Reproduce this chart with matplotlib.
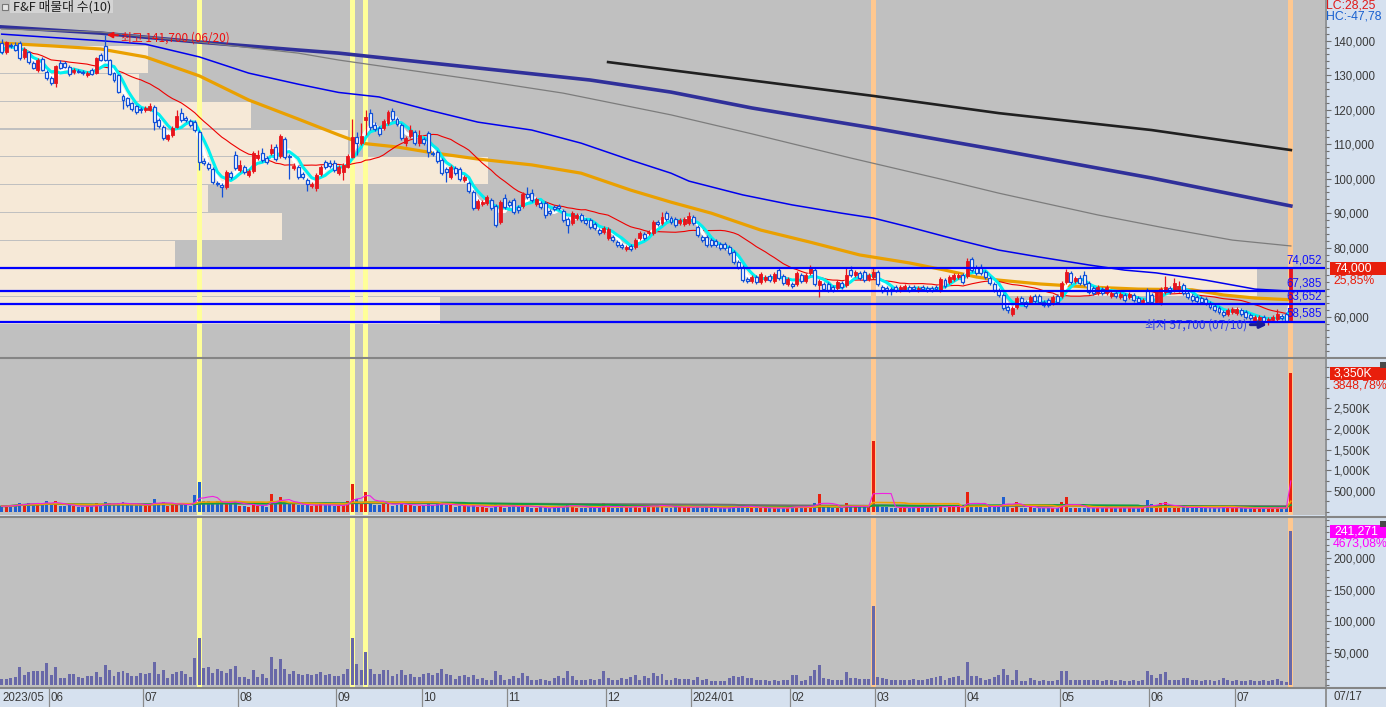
import numpy as np
import pandas as pd
import matplotlib
matplotlib.use("Agg")
import matplotlib.pyplot as plt
from matplotlib import font_manager
from matplotlib.patches import Rectangle
from matplotlib.lines import Line2D
from matplotlib.ticker import FixedLocator, FuncFormatter
from matplotlib.transforms import blended_transform_factory

# ---------------- data ----------------
# KRX trading calendar, 2023-05-16 .. 2024-07-17
HOLIDAYS = ["2023-05-29", "2023-06-06", "2023-08-15", "2023-09-28", "2023-09-29",
            "2023-10-02", "2023-10-03", "2023-10-09", "2023-12-25", "2023-12-29",
            "2024-01-01", "2024-02-09", "2024-02-12", "2024-03-01", "2024-04-10",
            "2024-05-01", "2024-05-06", "2024-05-15", "2024-06-06"]
START, END = "2023-05-16", "2024-07-17"

# daily candles, thousand won
opens = [
    139.3, 136.7, 138.8, 138.8, 139.2, 135.3, 136.7, 133.5, 131.5, 134.7,
    130.9, 129.2, 127.7, 133.5, 133.5, 132.4, 130.9, 131.2, 130.9, 130.1,
    131.5, 130.6, 135.8, 138.5, 134.4, 130.6, 130.1, 124.0, 123.4, 121.9,
    121.1, 120.2, 119.9, 119.9, 120.8, 117.0, 115.0, 111.5, 112.6, 115.0,
    119.0, 117.6, 116.7, 116.4, 113.5, 105.1, 104.2, 102.8, 98.7, 98.1,
    97.6, 101.6, 106.9, 102.5, 103.4, 101.1, 102.2, 106.0, 107.4, 106.0,
    107.4, 109.2, 106.6, 111.5, 106.6, 103.1, 103.4, 101.3, 99.6, 97.8,
    97.3, 101.3, 104.8, 104.6, 104.6, 101.6, 101.9, 103.4, 106.3, 112.1,
    110.3, 117.0, 119.0, 115.6, 114.7, 114.7, 116.1, 119.6, 117.3, 115.6,
    110.3, 112.4, 113.5, 110.3, 111.5, 113.2, 107.4, 107.7, 105.4, 102.8,
    100.5, 103.1, 102.8, 99.6, 98.7, 96.1, 91.5, 92.7, 93.0, 93.8,
    92.1, 87.4, 94.4, 93.2, 93.8, 91.8, 92.1, 95.6, 95.9, 92.7,
    92.9, 92.9, 90.6, 91.8, 92.1, 90.6, 88.3, 87.2, 88.6, 89.5,
    88.0, 88.0, 86.9, 85.1, 84.6, 82.8, 83.1, 81.6, 80.8, 79.6,
    80.5, 80.2, 82.8, 84.0, 84.3, 84.3, 87.4, 87.2, 90.0, 88.6,
    88.3, 87.2, 86.9, 87.2, 88.9, 86.0, 83.1, 83.1, 82.2, 81.9,
    81.0, 81.0, 80.2, 78.7, 75.9, 74.4, 70.9, 70.4, 71.5, 70.0,
    70.6, 71.8, 70.4, 73.5, 71.8, 69.5, 69.5, 69.5, 72.1, 70.4,
    72.7, 73.5, 69.2, 69.5, 69.5, 68.6, 68.3, 69.8, 69.2, 73.5,
    72.1, 72.7, 73.0, 70.9, 71.5, 73.0, 68.6, 68.3, 68.0, 68.6,
    67.7, 68.0, 68.6, 68.6, 67.7, 68.6, 68.3, 68.3, 68.6, 67.7,
    70.6, 70.0, 70.9, 71.5, 72.1, 71.8, 76.8, 74.4, 74.4, 73.0,
    71.2, 69.5, 67.8, 66.3, 62.8, 60.8, 62.8, 65.4, 64.3, 64.3,
    66.0, 66.0, 64.3, 64.9, 64.0, 66.0, 66.0, 70.0, 72.7, 70.4,
    71.2, 72.1, 69.8, 68.3, 66.9, 68.0, 66.9, 66.0, 66.9, 65.7,
    66.3, 65.7, 66.3, 65.4, 64.3, 67.8, 66.3, 64.3, 64.0, 67.2,
    68.3, 67.8, 67.8, 69.2, 66.9, 66.0, 65.7, 65.4, 65.1, 64.0,
    63.1, 62.5, 61.3, 60.8, 61.3, 61.0, 61.9, 61.3, 60.5, 58.7,
    59.0, 59.9, 58.4, 59.0, 59.3, 60.2, 60.8, 59.0]
highs = [
    140.5, 140.0, 139.3, 139.6, 140.0, 138.2, 137.0, 134.0, 135.0, 135.3,
    131.5, 129.8, 133.0, 134.5, 134.0, 133.0, 132.0, 131.8, 131.5, 131.2,
    132.0, 135.3, 136.5, 141.7, 134.7, 131.0, 130.4, 124.5, 123.8, 122.3,
    121.5, 120.8, 121.1, 122.0, 121.4, 117.6, 115.6, 113.0, 115.2, 120.0,
    120.5, 118.2, 117.3, 117.0, 114.0, 106.0, 104.8, 103.4, 99.2, 98.7,
    102.5, 102.2, 108.0, 105.4, 104.0, 102.8, 108.0, 108.3, 109.0, 106.6,
    110.0, 110.0, 113.0, 112.0, 107.2, 104.5, 104.0, 101.9, 100.2, 99.0,
    101.6, 104.0, 105.4, 105.4, 105.4, 104.0, 104.6, 107.2, 117.3, 113.5,
    116.0, 120.0, 120.2, 116.4, 115.3, 117.3, 120.0, 120.5, 117.9, 116.1,
    112.4, 115.6, 114.1, 114.1, 112.1, 113.8, 108.0, 108.3, 106.0, 103.4,
    104.0, 103.7, 103.4, 101.0, 99.3, 96.7, 94.1, 93.8, 95.3, 94.4,
    92.7, 93.8, 95.6, 93.8, 94.4, 92.4, 96.1, 97.6, 97.0, 94.7,
    93.5, 93.5, 91.2, 92.4, 92.7, 91.2, 88.9, 90.6, 90.0, 90.0,
    88.6, 88.6, 87.5, 85.7, 86.3, 86.0, 83.7, 82.2, 81.4, 80.8,
    81.0, 82.8, 84.9, 84.6, 85.1, 88.0, 88.0, 90.4, 90.6, 89.2,
    88.9, 88.6, 88.9, 90.4, 89.5, 86.6, 83.7, 83.7, 82.8, 82.5,
    81.6, 81.6, 80.8, 79.3, 76.5, 75.0, 71.5, 72.1, 72.1, 73.0,
    72.1, 72.4, 73.0, 74.4, 72.4, 71.5, 70.1, 73.3, 72.7, 72.7,
    75.0, 74.1, 71.0, 70.1, 70.1, 69.2, 70.6, 70.4, 74.1, 74.7,
    73.6, 73.3, 73.6, 72.7, 74.4, 73.6, 69.2, 68.9, 68.6, 69.2,
    69.2, 69.5, 69.2, 69.2, 68.9, 69.2, 68.9, 68.9, 69.2, 71.5,
    71.2, 72.1, 72.7, 72.7, 72.7, 77.0, 77.4, 75.0, 75.3, 73.6,
    71.8, 70.1, 68.3, 66.9, 63.4, 63.1, 66.0, 66.0, 64.9, 66.3,
    66.6, 66.6, 64.9, 65.4, 66.3, 66.6, 70.4, 73.8, 73.3, 71.8,
    72.1, 73.3, 70.4, 68.9, 69.2, 68.6, 69.2, 67.5, 67.5, 67.2,
    66.9, 67.2, 66.9, 66.0, 65.4, 68.3, 66.9, 67.8, 68.6, 71.8,
    68.9, 71.2, 70.4, 69.8, 67.5, 66.6, 66.3, 66.0, 65.7, 64.6,
    63.7, 63.1, 61.9, 62.5, 62.8, 62.8, 62.5, 61.9, 61.0, 60.5,
    60.5, 60.5, 59.9, 60.5, 62.2, 60.8, 61.3, 74.0]
lows = [
    136.0, 136.2, 137.8, 137.0, 134.5, 134.7, 133.2, 131.8, 131.0, 131.2,
    128.6, 127.2, 126.7, 131.8, 132.0, 129.8, 130.4, 130.6, 130.2, 129.5,
    130.0, 130.3, 134.0, 134.0, 130.0, 128.0, 124.8, 120.2, 120.8, 119.6,
    118.8, 119.0, 119.3, 119.6, 114.1, 114.7, 111.2, 111.0, 112.2, 114.7,
    116.4, 116.4, 115.0, 113.5, 102.5, 104.0, 102.5, 98.4, 97.8, 94.7,
    97.0, 100.0, 102.5, 102.0, 101.3, 100.5, 101.6, 105.4, 104.8, 104.2,
    107.0, 105.0, 106.0, 105.7, 99.9, 102.5, 100.0, 99.9, 96.5, 97.2,
    96.5, 100.8, 102.8, 103.0, 101.9, 101.0, 99.6, 103.0, 106.0, 107.0,
    109.8, 112.7, 114.0, 113.8, 112.4, 114.0, 115.6, 116.7, 115.3, 111.2,
    109.5, 111.8, 109.8, 109.5, 109.8, 106.4, 106.6, 104.6, 101.0, 99.0,
    100.0, 101.0, 99.3, 99.0, 95.8, 91.0, 90.9, 92.0, 92.4, 91.0,
    86.0, 86.9, 91.2, 91.8, 89.8, 90.0, 91.5, 94.1, 93.2, 92.1,
    91.2, 88.5, 89.4, 90.6, 90.9, 87.4, 84.3, 86.6, 88.0, 87.4,
    86.6, 85.4, 85.1, 83.7, 84.0, 82.2, 81.6, 80.2, 79.6, 79.0,
    79.0, 79.6, 82.2, 82.2, 83.7, 83.7, 86.3, 86.6, 87.7, 86.9,
    86.0, 86.6, 86.3, 86.6, 86.6, 83.1, 81.6, 80.2, 80.2, 80.2,
    79.3, 79.3, 77.9, 75.3, 73.8, 70.0, 69.8, 69.8, 69.5, 69.5,
    70.0, 70.0, 69.8, 70.6, 69.2, 68.9, 68.3, 68.9, 69.8, 69.8,
    72.1, 68.9, 65.8, 67.4, 67.1, 67.1, 67.7, 68.0, 68.6, 71.5,
    71.5, 70.6, 70.0, 70.3, 70.9, 68.9, 66.8, 66.3, 66.3, 67.1,
    67.1, 67.4, 67.1, 67.4, 67.1, 67.4, 67.1, 67.1, 67.4, 67.1,
    68.3, 69.4, 70.3, 70.9, 69.4, 71.2, 72.9, 72.1, 72.1, 70.9,
    69.2, 67.1, 65.7, 61.9, 61.0, 60.2, 62.2, 63.7, 62.5, 63.7,
    64.0, 63.7, 62.8, 62.8, 63.4, 63.7, 65.4, 69.4, 69.4, 69.8,
    69.2, 68.9, 66.6, 66.3, 66.3, 66.3, 66.3, 65.4, 65.4, 65.1,
    64.3, 65.1, 64.3, 63.7, 63.7, 63.7, 63.7, 63.7, 63.4, 66.6,
    66.6, 67.2, 67.2, 66.3, 65.1, 64.3, 64.0, 63.7, 63.4, 62.2,
    61.3, 60.8, 59.9, 60.2, 60.8, 60.5, 60.2, 59.3, 59.0, 58.1,
    58.0, 58.1, 57.7, 58.4, 58.7, 59.0, 58.4, 58.6]
closes = [
    136.7, 139.6, 138.4, 137.3, 134.9, 137.6, 133.8, 132.1, 134.4, 131.5,
    129.2, 127.7, 132.7, 132.1, 132.4, 130.3, 131.5, 130.9, 130.6, 130.6,
    130.3, 134.9, 134.4, 134.4, 130.3, 128.6, 125.1, 122.8, 121.4, 120.2,
    119.3, 119.9, 120.5, 121.1, 116.4, 115.3, 111.8, 112.6, 114.7, 118.2,
    117.0, 117.0, 115.6, 114.1, 104.8, 104.6, 103.1, 99.0, 98.4, 97.6,
    101.9, 100.5, 103.1, 104.0, 101.9, 102.2, 107.4, 106.9, 105.4, 104.8,
    108.6, 105.7, 112.4, 106.3, 106.3, 103.7, 100.5, 100.5, 98.4, 98.4,
    101.1, 103.4, 103.4, 103.7, 102.5, 103.4, 104.0, 106.6, 112.1, 110.3,
    112.4, 117.9, 115.0, 114.4, 113.0, 116.7, 119.3, 117.3, 115.9, 111.8,
    111.8, 114.1, 110.3, 112.7, 110.3, 107.7, 107.2, 105.1, 101.6, 101.9,
    103.4, 101.6, 99.9, 100.5, 96.4, 91.5, 93.5, 93.2, 94.7, 91.5,
    86.6, 93.2, 91.8, 92.4, 90.4, 90.9, 95.6, 94.7, 93.8, 94.1,
    91.8, 89.5, 90.0, 91.2, 91.5, 88.0, 86.6, 90.0, 89.5, 88.0,
    87.2, 86.0, 85.7, 84.3, 85.7, 85.4, 82.2, 80.8, 80.2, 80.2,
    79.6, 82.2, 84.3, 82.8, 84.6, 87.4, 86.9, 88.9, 88.3, 87.4,
    86.6, 88.0, 88.3, 89.2, 87.2, 83.7, 82.2, 80.8, 80.8, 80.8,
    79.9, 79.9, 78.5, 75.9, 74.4, 70.6, 70.4, 71.5, 70.0, 72.4,
    71.5, 70.6, 72.4, 71.2, 69.8, 70.9, 68.9, 72.7, 70.4, 72.1,
    74.1, 69.5, 70.4, 68.0, 67.7, 67.7, 70.0, 68.6, 72.1, 72.1,
    73.0, 71.2, 70.6, 72.1, 73.0, 69.5, 67.4, 67.7, 67.4, 67.7,
    68.6, 68.9, 67.7, 68.0, 68.3, 68.0, 67.7, 67.7, 68.0, 70.9,
    68.9, 71.5, 72.1, 72.1, 70.0, 76.2, 73.5, 72.7, 72.7, 71.5,
    69.8, 67.7, 66.3, 62.5, 61.9, 62.5, 65.4, 64.3, 63.1, 65.7,
    64.6, 64.3, 63.4, 63.4, 65.7, 64.3, 69.8, 73.0, 70.0, 71.2,
    69.8, 69.5, 67.1, 66.9, 68.6, 66.9, 68.6, 66.9, 66.0, 66.6,
    64.9, 66.6, 64.9, 64.3, 64.9, 64.3, 64.3, 67.2, 68.0, 68.6,
    67.2, 69.8, 68.9, 66.9, 65.7, 64.9, 64.6, 64.3, 64.0, 62.8,
    61.9, 61.3, 60.5, 61.9, 62.2, 62.2, 60.8, 59.9, 59.6, 59.9,
    59.9, 58.7, 59.3, 59.9, 60.8, 59.6, 58.8, 74.0]

# volume, thousand shares
volume = [
    135, 130, 155, 170, 218, 180, 200, 190, 210, 200,
    270, 170, 260, 140, 130, 150, 145, 120, 115, 130,
    135, 200, 140, 240, 210, 150, 220, 230, 190, 160,
    165, 180, 170, 185, 315, 190, 230, 140, 170, 200,
    210, 160, 130, 395, 725, 260, 270, 200, 250, 230,
    200, 240, 270, 140, 130, 110, 230, 130, 170, 120,
    435, 250, 363, 240, 180, 200, 160, 150, 170, 140,
    170, 190, 150, 160, 130, 135, 170, 250, 677, 300,
    230, 484, 240, 170, 165, 220, 230, 140, 160, 230,
    150, 170, 130, 135, 170, 180, 150, 180, 240, 170,
    150, 110, 140, 150, 130, 160, 110, 120, 95, 100,
    210, 150, 100, 110, 140, 120, 180, 140, 85, 90,
    110, 90, 80, 120, 135, 120, 210, 140, 100, 95,
    100, 110, 90, 110, 200, 125, 100, 95, 120, 110,
    130, 150, 100, 135, 125, 185, 140, 170, 100, 95,
    120, 110, 110, 115, 100, 130, 100, 110, 80, 80,
    85, 80, 120, 140, 130, 140, 120, 120, 90, 90,
    90, 80, 90, 80, 100, 90, 160, 155, 80, 100,
    140, 220, 430, 120, 110, 100, 100, 100, 200, 120,
    120, 110, 110, 110, 1720, 140, 125, 110, 100, 95,
    90, 100, 95, 110, 100, 95, 110, 120, 130, 140,
    100, 120, 130, 140, 90, 480, 150, 145, 125, 100,
    115, 135, 160, 350, 165, 100, 230, 80, 80, 125,
    100, 80, 90, 80, 80, 100, 230, 350, 90, 90,
    90, 90, 100, 90, 90, 80, 90, 100, 80, 100,
    80, 80, 90, 80, 90, 280, 180, 140, 200, 230,
    100, 90, 90, 125, 120, 90, 100, 80, 90, 100,
    80, 100, 120, 90, 80, 90, 80, 80, 90, 80,
    80, 90, 80, 100, 115, 80, 84.836, 3350]

# lower pane series, thousands
lower = [
    10.4, 10.4, 12, 13, 28.6, 15.6, 20.8, 22.4, 22.4, 22.4,
    35, 15.6, 28.6, 12, 12, 17.2, 17.2, 13, 12, 14.6,
    14.6, 20.8, 13, 31, 23.4, 14, 20.8, 22.4, 19.3, 15.1,
    15.1, 19.3, 18.2, 19.3, 36.5, 18.2, 23.4, 12, 17.2, 20.8,
    22.4, 17.2, 13, 42.7, 74, 27.6, 28.6, 19.3, 26, 22.4,
    19.3, 26, 29.7, 13, 13, 10.4, 24.5, 13, 17.2, 12,
    44, 26, 41.7, 26, 18.2, 22.4, 17.2, 15.6, 18.2, 15.6,
    18.2, 20.8, 15.6, 18.2, 14, 14, 18.2, 26, 74, 32.8,
    24.5, 52, 26, 18.2, 18.2, 24.5, 24.5, 14, 17.2, 24.5,
    15.6, 18.2, 13, 13, 18.2, 19.3, 15.6, 19.3, 26, 18.2,
    15.6, 10.4, 14, 15.6, 13, 15.6, 10.4, 12, 8.9, 8.9,
    22.4, 15.6, 8.9, 10.4, 14, 12, 19.3, 14, 7.8, 7.8,
    10.4, 7.8, 6.8, 12, 14, 12, 22.4, 14, 8.9, 8.9,
    8.9, 10.4, 7.8, 10.4, 22.4, 12, 8.9, 8.9, 12, 10.4,
    13, 15.6, 8.9, 14, 12, 19.3, 14, 18.2, 8.9, 8.9,
    12, 10.4, 10.4, 10.4, 8.9, 13, 8.9, 10.4, 6.8, 6.8,
    6.8, 6.8, 12, 14, 13, 14, 12, 12, 7.8, 7.8,
    7.8, 6.8, 7.8, 6.8, 8.9, 7.8, 15.6, 15.6, 6.8, 8.9,
    14, 23.4, 31, 12, 10.4, 8.9, 8.9, 8.9, 20.8, 12,
    12, 10.4, 10.4, 10.4, 125, 13, 12, 10.4, 8.9, 8.9,
    7.8, 8.9, 8.9, 10.4, 8.9, 8.9, 10.4, 12, 13, 14,
    8.9, 12, 13, 14, 7.8, 36.5, 14, 14, 12, 8.9,
    10.4, 13, 15.6, 26, 15.6, 8.9, 23.4, 6.8, 6.8, 12,
    8.9, 6.8, 7.8, 6.8, 6.8, 8.9, 22.4, 22.4, 7.8, 7.8,
    7.8, 7.8, 8.9, 7.8, 7.8, 6.8, 7.8, 8.9, 6.8, 8.9,
    6.8, 6.8, 7.8, 6.8, 7.8, 22.4, 15.6, 12, 17.2, 20.8,
    8.9, 7.8, 7.8, 12, 12, 7.8, 8.9, 6.8, 7.8, 8.9,
    6.8, 8.9, 12, 7.8, 6.8, 7.8, 6.8, 6.8, 7.8, 6.8,
    6.8, 7.8, 6.8, 8.9, 10.4, 6.8, 5.055, 241.271]

# moving averages (bar index, thousand won)
ma60_idx = [0, 11, 22, 32, 44, 55, 66, 75, 80, 88, 95, 106, 118, 129, 140, 149,
            158, 169, 180, 191, 202, 210, 217, 222, 231, 242, 253, 265, 272, 279, 287]
ma60_val = [139.3, 138.5, 137.6, 135.3, 129.8, 122.8, 117.3, 112.7, 110.3, 109.2,
            107.7, 105.7, 104.0, 101.6, 96.7, 93.2, 90.0, 85.1, 81.6, 77.9,
            75.6, 73.5, 71.5, 70.6, 69.5, 68.6, 68.0, 67.8, 66.3, 65.4, 64.9]
ma120_idx = [0, 22, 32, 44, 55, 66, 75, 84, 95, 106, 118, 129, 140, 149, 153,
             165, 176, 187, 194, 202, 213, 222, 231, 242, 250, 257, 268, 279, 287]
ma120_val = [141.9, 140.0, 139.0, 135.3, 130.6, 127.4, 125.0, 123.7, 119.9, 116.4,
             114.1, 110.3, 105.4, 101.6, 99.3, 95.3, 92.4, 90.0, 88.6, 86.0,
             82.2, 79.3, 77.3, 75.0, 73.5, 72.7, 70.6, 68.0, 67.4]
ma240_idx = [0, 22, 44, 66, 75, 106, 125, 149, 167, 189, 210, 222, 244, 259, 274, 287]
ma240_val = [143.4, 142.5, 139.6, 136.4, 134.4, 128.6, 124.8, 118.5, 113.0, 106.0,
             99.6, 95.8, 89.5, 85.7, 82.2, 80.5]
ma480_idx = [0, 22, 44, 66, 75, 131, 149, 167, 194, 222, 256, 287]
ma480_val = [144.0, 142.2, 139.6, 137.3, 136.4, 128.6, 125.1, 120.5, 114.7, 108.3,
             100.2, 92.1]
ma960_idx = [135, 194, 222, 256, 287]
ma960_val = [133.8, 124.0, 119.0, 114.1, 108.3]

# horizontal levels (won)
levels = [74052, 67385, 63652, 58585]

# volume profile, 10 bins from low to high, million shares
profile_range = (57700, 138700)
profile_vol = [4.40, 12.58, 1.75, 2.82, 2.08, 4.88, 3.48, 2.51, 1.39, 1.48]

# highlighted sessions
yellow_days = [44, 78, 81]
orange_days = [194, 287]

# ---------------- style ----------------
W, H = 1386, 707
CHART_R = 1325
CHART_BG = "#c0c0c0"
PANEL_BG = "#d6e1ef"
BEIGE = "#f6e9d7"
UP = "#e8141c"
DOWN = "#1050d8"
GRID_TXT = "#3a3a3a"

names = {f.name for f in font_manager.fontManager.ttflist}
NUM_FONT = "Liberation Sans Narrow" if "Liberation Sans Narrow" in names else "Liberation Sans"
NUM_SIZE = 10 if NUM_FONT == "Liberation Sans Narrow" else 8.3
KR = ["Noto Sans CJK KR", "DejaVu Sans"]
plt.rcParams["font.family"] = [NUM_FONT, "Noto Sans CJK KR", "DejaVu Sans"]

o = np.array(opens) * 1000
h = np.array(highs) * 1000
l = np.array(lows) * 1000
c = np.array(closes) * 1000
vol = np.array(volume) * 1000
low_pane = np.array(lower) * 1000
n = len(c)
x = np.arange(n)

days = pd.bdate_range(START, END, freq="C", holidays=HOLIDAYS)[-n:]

XMIN, XMAX = -0.38, 294.6

fig = plt.figure(figsize=(W / 100, H / 100), dpi=100)
fig.patch.set_facecolor(PANEL_BG)


def rect(x0, y0, x1, y1):
    return [x0 / W, 1 - y1 / H, (x1 - x0) / W, (y1 - y0) / H]


ax_p = fig.add_axes(rect(0, 0, CHART_R, 357))
ax_v = fig.add_axes(rect(0, 359, CHART_R, 515))
ax_t = fig.add_axes(rect(0, 518, CHART_R, 688))
ax_d = fig.add_axes(rect(0, 688, CHART_R, 707))

for ax in (ax_p, ax_v, ax_t, ax_d):
    for s in ax.spines.values():
        s.set_visible(False)
    ax.set_xlim(XMIN, XMAX)
    ax.set_xticks([])
for ax in (ax_p, ax_v, ax_t):
    ax.set_facecolor(CHART_BG)
    ax.yaxis.tick_right()
    ax.tick_params(axis="y", which="major", direction="out", length=4.5, width=0.8,
                   color="#6e6e6e", labelcolor=GRID_TXT, labelsize=NUM_SIZE, pad=1.5)
    ax.tick_params(axis="y", which="minor", direction="out", length=2.8, width=0.8,
                   color="#6e6e6e")

ax_p.set_ylim(48316, 151797)
ax_v.set_ylim(-79800, 3693000)
ax_t.set_ylim(-4400, 262360)
ax_d.set_facecolor(PANEL_BG)
ax_d.set_ylim(0, 1)
ax_d.set_yticks([])

# ticks (labels hidden behind the last-value tags are left out)
p_major = [v for v in range(60000, 140001, 10000) if v != 70000]
ax_p.yaxis.set_major_locator(FixedLocator(p_major))
ax_p.yaxis.set_minor_locator(FixedLocator(
    [v for v in range(50000, 144001, 2000) if v not in p_major]))
ax_p.yaxis.set_major_formatter(FuncFormatter(lambda v, p: f"{v:,.0f}"))

v_major = list(range(500000, 2500001, 500000))
ax_v.yaxis.set_major_locator(FixedLocator(v_major))
ax_v.yaxis.set_minor_locator(FixedLocator(
    [v for v in range(0, 3500001, 250000) if v not in v_major]))
ax_v.yaxis.set_major_formatter(FuncFormatter(
    lambda v, p: f"{v:,.0f}" if v < 1e6 else f"{v / 1000:,.0f}K"))

t_major = list(range(50000, 200001, 50000))
ax_t.yaxis.set_major_locator(FixedLocator(t_major))
ax_t.yaxis.set_minor_locator(FixedLocator(
    [v for v in range(0, 260001, 10000) if v not in t_major]))
ax_t.yaxis.set_major_formatter(FuncFormatter(lambda v, p: f"{v:,.0f}"))

# volume profile
edges = np.linspace(profile_range[0], profile_range[1], len(profile_vol) + 1)
bin_h = edges[1] - edges[0]
span = 0.949 * (XMAX - XMIN)
pv = np.array(profile_vol)
ax_p.barh(edges[:-1] + bin_h / 2, pv / pv.max() * span, height=bin_h - 300,
          left=XMIN, color=BEIGE, zorder=1)

# highlighted sessions
for ax in (ax_p, ax_v, ax_t):
    for d in yellow_days:
        ax.axvspan(d - 0.55, d + 0.55, color="#ffff99", zorder=2, lw=0)
    for d in orange_days:
        ax.axvspan(d - 0.55, d + 0.55, color="#ffc890", zorder=2, lw=0)

# moving averages
cs = pd.Series(c)
ax_p.plot(np.array(ma960_idx), np.array(ma960_val) * 1000, color="#202020", lw=1.9, zorder=3)
ax_p.plot(np.array(ma480_idx), np.array(ma480_val) * 1000, color="#30309a", lw=2.6, zorder=3)
ax_p.plot(np.array(ma240_idx), np.array(ma240_val) * 1000, color="#7c7c7c", lw=0.9, zorder=3)
ax_p.plot(np.array(ma120_idx), np.array(ma120_val) * 1000, color="#0000ee", lw=1.1, zorder=3)
ax_p.plot(np.array(ma60_idx), np.array(ma60_val) * 1000, color="#eaa000", lw=2.3, zorder=3)
ax_p.plot(x, cs.rolling(20, min_periods=1).mean(), color="#ee0000", lw=0.8, zorder=3)
ax_p.plot(x, cs.rolling(3, min_periods=1).mean(), color="#ffffff", lw=2.4, zorder=3)
ax_p.plot(x, cs.rolling(5, min_periods=1).mean(), color="#00f0f0", lw=2.2, zorder=3)

# candles
up = c >= o
bw = 0.66
ax_p.vlines(x[up], l[up], h[up], color=UP, lw=0.9, zorder=4)
ax_p.vlines(x[~up], l[~up], h[~up], color=DOWN, lw=0.9, zorder=4)
body = np.maximum(np.abs(c - o), 350)
ax_p.bar(x[up], body[up], bottom=np.minimum(o, c)[up], width=bw, color=UP,
         edgecolor=UP, lw=0.6, zorder=5)
ax_p.bar(x[~up], body[~up], bottom=np.minimum(o, c)[~up], width=bw, facecolor="#ffffff",
         edgecolor=DOWN, lw=0.9, zorder=5)

# levels
blend = blended_transform_factory(ax_p.transAxes, ax_p.transData)
for lv in levels:
    ax_p.axhline(lv, color="#0000ff", lw=1.6, zorder=6)
    ax_p.annotate(f"{lv:,}", xy=(1322 / CHART_R, lv), xycoords=blend, xytext=(0, 1.2),
                  textcoords="offset points", ha="right", va="bottom", color="#1010ff",
                  fontsize=NUM_SIZE, zorder=7)

# high / low marks
hi_i = int(np.argmax(h))
lo_i = int(np.argmin(l))
ax_p.annotate(f"최고 {h[hi_i]:,.0f} ({days[hi_i]:%m/%d})", xy=(hi_i + 0.4, h[hi_i]),
              xytext=(10, -2), textcoords="offset points", ha="left", va="center",
              color="#f01010", fontsize=8.5, family=KR, zorder=8,
              arrowprops=dict(arrowstyle="-|>", color="#f01010", lw=1.4,
                              mutation_scale=8, shrinkA=0, shrinkB=0))
ax_p.annotate(f"최저 {l[lo_i]:,.0f} ({days[lo_i]:%m/%d})", xy=(lo_i - 0.3, l[lo_i]),
              xytext=(-14, 0), textcoords="offset points", ha="right", va="center",
              color="#2a3ae0", fontsize=8.5, family=KR, zorder=8,
              arrowprops=dict(arrowstyle="-|>", color="#1a1a9a", lw=2.2,
                              mutation_scale=10, shrinkA=0, shrinkB=0))

# volume pane
vup = c >= o
ax_v.bar(x[vup], vol[vup], width=0.66, color="#e8200e", zorder=4)
ax_v.bar(x[~vup], vol[~vup], width=0.66, color="#1e5fd0", zorder=4)
vs = pd.Series(vol)
ax_v.plot(x, vs.rolling(120, min_periods=1).mean(), color="#707070", lw=1.4, zorder=5)
ax_v.plot(x, vs.rolling(60, min_periods=1).mean(), color="#10a040", lw=1.4, zorder=5)
ax_v.plot(x, vs.rolling(20, min_periods=1).mean(), color="#f0a000", lw=1.2, zorder=5)
ax_v.plot(x, vs.rolling(5, min_periods=1).mean(), color="#f020e0", lw=0.8, zorder=5)

# lower pane
ax_t.bar(x, low_pane, width=0.66, color="#6868a8", zorder=4)

# date strip
mon = days.to_period("M")
starts = [i for i in range(n) if i == 0 or mon[i] != mon[i - 1]]
for i in starts:
    d = days[i]
    if i == 0:
        lab, xpos = d.strftime("%Y/%m"), XMIN + 0.3
    else:
        lab = d.strftime("%Y/%m") if d.month == 1 else d.strftime("%m")
        xpos = i - 0.5
        ax_d.axvline(xpos, color="#8a8a8a", lw=0.9)
    ax_d.text(xpos + 0.35, 0.47, lab, ha="left", va="center", color=GRID_TXT,
              fontsize=NUM_SIZE)
fig.text(1333 / W, 1 - 697 / H, days[-1].strftime("%m/%d"), ha="left", va="center",
         color=GRID_TXT, fontsize=NUM_SIZE)

# separators
for yy in (358, 516.5, 688):
    fig.lines.append(Line2D([0, 1], [1 - yy / H] * 2, transform=fig.transFigure,
                            color="#858585", lw=1.5))
fig.lines.append(Line2D([(CHART_R + 0.5) / W] * 2, [0, 1], transform=fig.transFigure,
                        color="#858585", lw=1.2))


# last-value tags on the scale
def ypix(ax, v):
    return ax.transData.transform((0, v))[1]


def tag(ax, v, text, box_color, pct, pct_color):
    yc = ypix(ax, v) / H
    fig.patches.append(Rectangle((1330 / W, yc - 6.5 / H), 56 / W, 13 / H,
                                 transform=fig.transFigure, facecolor=box_color,
                                 edgecolor="none", zorder=5))
    fig.text(1334 / W, yc, text, color="white", ha="left", va="center",
             fontsize=NUM_SIZE + 0.5, zorder=6)
    fig.text(1333 / W, yc - 12.5 / H, pct, color=pct_color, ha="left", va="center",
             fontsize=NUM_SIZE + 0.5, zorder=6)


tag(ax_p, c[-1], f"{c[-1]:,.0f}", "#e81e0c", "25,85%", "#e81e0c")
tag(ax_v, vol[-1], f"{vol[-1] / 1000:,.0f}K", "#e81e0c", "3848,78%", "#e81e0c")
tag(ax_t, low_pane[-1], f"{low_pane[-1]:,.0f}", "#ff00ff", "4673,08%", "#ff00ff")

fig.text(1326 / W, 1 - 5 / H, "LC:28,25", color="#e01818", ha="left", va="center",
         fontsize=NUM_SIZE + 0.5)
fig.text(1326 / W, 1 - 16.5 / H, "HC:-47,78", color="#1860d0", ha="left", va="center",
         fontsize=NUM_SIZE + 0.5)

# pane close icons
for yy in (362, 520.5):
    fig.patches.append(Rectangle((1380 / W, 1 - (yy + 6) / H), 6 / W, 6 / H,
                                 transform=fig.transFigure, facecolor="#4a4a4a",
                                 edgecolor="none", zorder=5))

# title tab
fig.patches.append(Rectangle((10 / W, 1 - 13 / H), 103 / W, 13 / H, transform=fig.transFigure,
                             facecolor="#d4d4d4", edgecolor="none", zorder=5))
fig.patches.append(Rectangle((2 / W, 1 - 10 / H), 6 / W, 6 / H, transform=fig.transFigure,
                             facecolor="#e6e6e6", edgecolor="#777777", lw=0.8, zorder=5))
fig.text(13 / W, 1 - 6.5 / H, "F&F 매물대 수(10)", family=KR, fontsize=9.2,
         color="#202020", ha="left", va="center", zorder=6)

fig.savefig("out.png", dpi=100, facecolor=fig.get_facecolor())
